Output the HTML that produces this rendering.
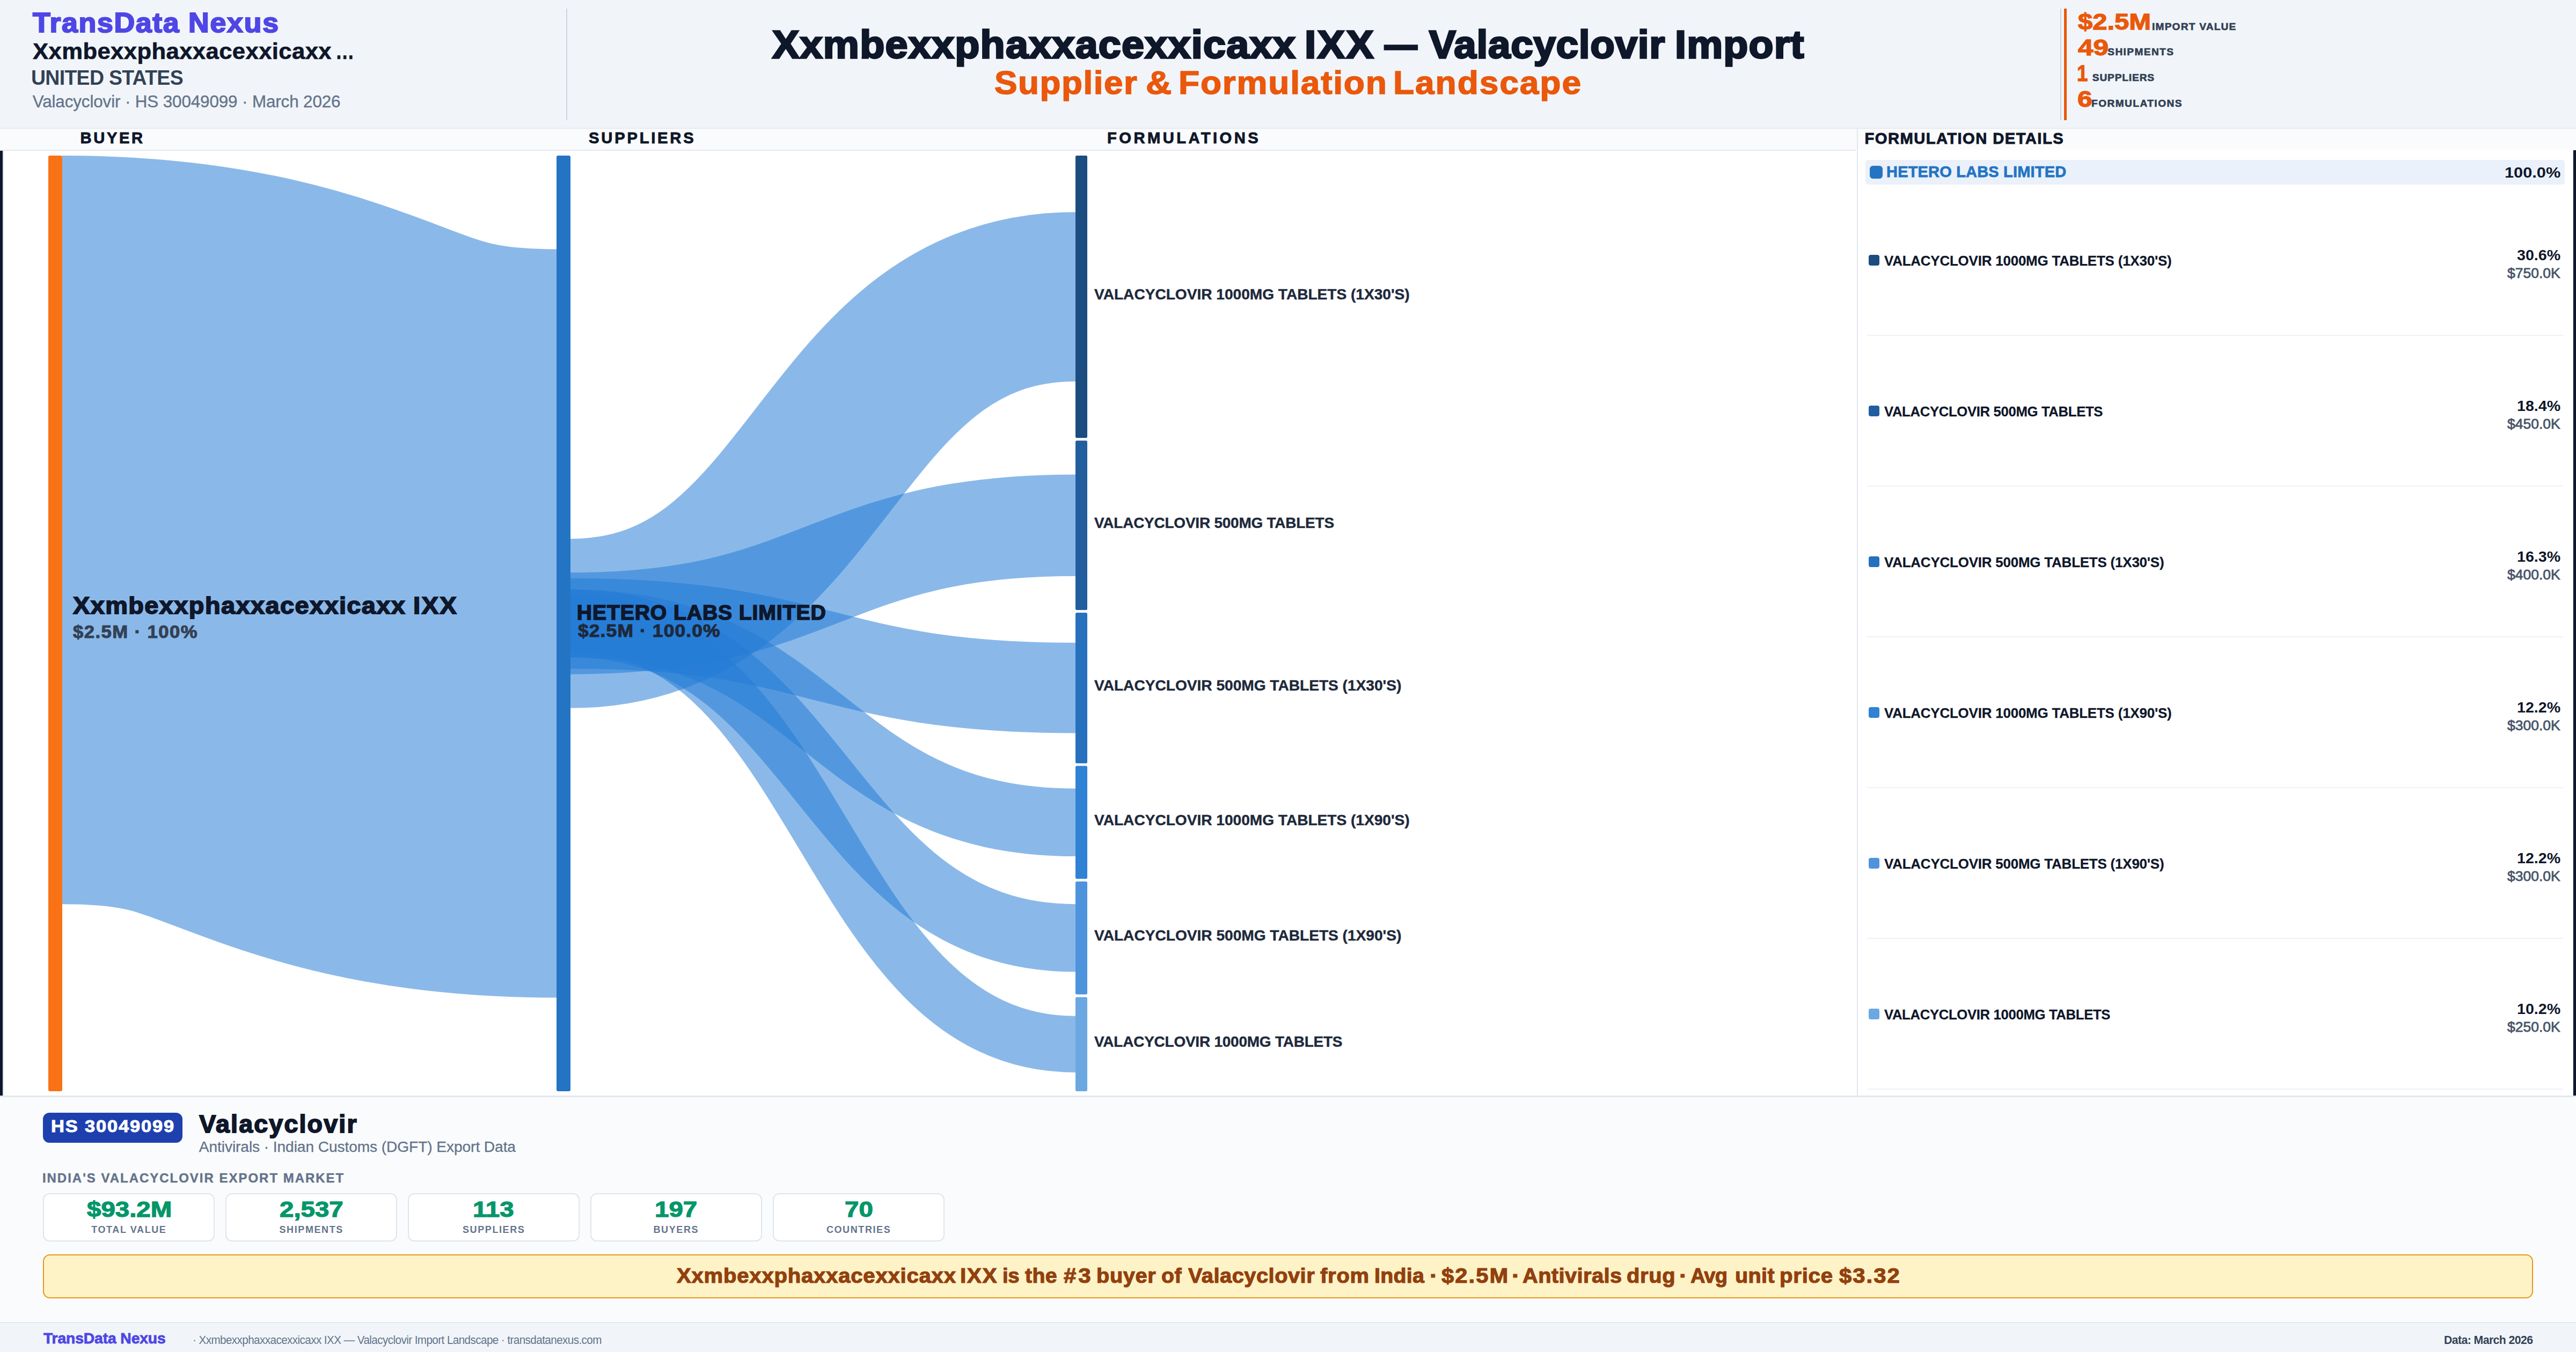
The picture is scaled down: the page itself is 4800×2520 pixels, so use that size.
<!DOCTYPE html><html lang="en"><head><meta charset="utf-8"><title>Valacyclovir Import Landscape</title><style>
*{margin:0;padding:0;box-sizing:border-box}
html,body{width:100%;height:100%;overflow:hidden;background:#fff}
#root{position:absolute;left:0;top:0;width:4800px;height:2520px;overflow:hidden;background:#fff;font-family:"Liberation Sans",sans-serif}
#root{transform-origin:0 0}
@media (max-width:2400px){#root{transform:scale(.5)}}
@media (max-width:1600px){#root{transform:scale(.3333333)}}
.a{position:absolute}
.t{position:absolute;white-space:nowrap;line-height:1;font-weight:700;transform-origin:0 0}
.t.r{font-weight:400}
.g{position:absolute;white-space:nowrap;font-size:0;line-height:0;font-weight:700}
.g.r{font-weight:400}
.g span{display:inline-block;width:0;line-height:1;white-space:nowrap;transform-origin:0 0;vertical-align:top}
</style></head><body><div id="root">
<div class="a" style="left:0;top:0;width:4800px;height:238px;background:#f1f5f9"></div>
<div class="a" style="left:0;top:236px;width:4800px;height:2.5px;background:#eef2f6"></div><div class="a" style="left:0;top:238.5px;width:4800px;height:1.5px;background:#e1e6eb"></div>
<div class="a" style="left:0;top:240px;width:3461px;height:39px;background:#fafbfd"></div>
<div class="a" style="left:0;top:279px;width:3458px;height:2px;background:#e4e7eb"></div>
<div class="a" style="left:3461px;top:240px;width:1339px;height:40px;background:linear-gradient(#fafbfd,#fafbfd 80%,#fdfdfe)"></div>
<div class="a" style="left:0;top:281px;width:5px;height:1761.4px;background:#0f172a"></div><div class="a" style="left:5px;top:281px;width:1.5px;height:1761px;background:#dde2ee"></div>
<div class="a" style="left:4795px;top:280px;width:5px;height:1762.4px;background:#0f172a"></div><div class="a" style="left:4793.5px;top:280px;width:1.5px;height:1762px;background:#dde2ee"></div>
<div class="a" style="left:3460px;top:240px;width:2px;height:1802px;background:#e2e8f0"></div>
<div class="a" style="left:1055px;top:16px;width:2px;height:208px;background:#cdd4da"></div>
<div class="a" style="left:3839px;top:16px;width:2px;height:208px;background:#cdd4da"></div>
<div class="a" style="left:3845.5px;top:16px;width:5px;height:208px;background:#ea580c"></div>
<svg class="a" style="left:0;top:0" width="4800" height="2520" viewBox="0 0 4800 2520"><path d="M116.0,987.6C576.5,987.6 576.5,1162.0 1037.0,1162.0" stroke-width="1395.2" stroke="#247cd6" stroke-opacity="0.535" fill="none"/>
<path d="M1063.0,1162.0C1533.5,1162.0 1533.5,553.1 2004.0,553.1" stroke-width="315.7" stroke="#247cd6" stroke-opacity="0.535" fill="none"/>
<path d="M1063.0,1162.0C1533.5,1162.0 1533.5,979.1 2004.0,979.1" stroke-width="189.4" stroke="#247cd6" stroke-opacity="0.535" fill="none"/>
<path d="M1063.0,1162.0C1533.5,1162.0 1533.5,1282.3 2004.0,1282.3" stroke-width="168.4" stroke="#247cd6" stroke-opacity="0.535" fill="none"/>
<path d="M1063.0,1162.0C1533.5,1162.0 1533.5,1532.9 2004.0,1532.9" stroke-width="126.3" stroke="#247cd6" stroke-opacity="0.535" fill="none"/>
<path d="M1063.0,1162.0C1533.5,1162.0 1533.5,1748.3 2004.0,1748.3" stroke-width="126.3" stroke="#247cd6" stroke-opacity="0.535" fill="none"/>
<path d="M1063.0,1162.0C1533.5,1162.0 1533.5,1946.3 2004.0,1946.3" stroke-width="105.2" stroke="#247cd6" stroke-opacity="0.535" fill="none"/>
<rect x="90" y="290.0" width="26" height="1744.0" rx="3" fill="#f97316"/>
<rect x="1037" y="290.0" width="26" height="1744.0" rx="3" fill="#2474c4"/>
<rect x="2004" y="290.0" width="22" height="526.2" rx="2.5" fill="#1b4d80"/>
<rect x="2004" y="821.2" width="22" height="315.7" rx="2.5" fill="#225e9e"/>
<rect x="2004" y="1142.0" width="22" height="280.7" rx="2.5" fill="#2770be"/>
<rect x="2004" y="1427.6" width="22" height="210.5" rx="2.5" fill="#3082d4"/>
<rect x="2004" y="1643.1" width="22" height="210.5" rx="2.5" fill="#4e94dc"/>
<rect x="2004" y="1858.6" width="22" height="175.4" rx="2.5" fill="#6ba8e2"/></svg>
<div class="a" style="left:3476px;top:298px;width:1303px;height:46px;background:#eaf1fa;border-radius:5px"></div>
<div class="a" style="left:3484px;top:309px;width:24px;height:24px;background:#2474c4;border-radius:6px"></div>
<div class="a" style="left:3482px;top:475.0px;width:20px;height:20px;background:#1b4d80;border-radius:4px"></div>
<div class="a" style="left:3479px;top:624.0px;width:1297px;height:2px;background:#eef2f6"></div>
<div class="a" style="left:3482px;top:756.0px;width:20px;height:20px;background:#225e9e;border-radius:4px"></div>
<div class="a" style="left:3479px;top:905.0px;width:1297px;height:2px;background:#eef2f6"></div>
<div class="a" style="left:3482px;top:1037.0px;width:20px;height:20px;background:#2770be;border-radius:4px"></div>
<div class="a" style="left:3479px;top:1186.0px;width:1297px;height:2px;background:#eef2f6"></div>
<div class="a" style="left:3482px;top:1318.0px;width:20px;height:20px;background:#3082d4;border-radius:4px"></div>
<div class="a" style="left:3479px;top:1467.0px;width:1297px;height:2px;background:#eef2f6"></div>
<div class="a" style="left:3482px;top:1599.0px;width:20px;height:20px;background:#4e94dc;border-radius:4px"></div>
<div class="a" style="left:3479px;top:1748.0px;width:1297px;height:2px;background:#eef2f6"></div>
<div class="a" style="left:3482px;top:1880.0px;width:20px;height:20px;background:#6ba8e2;border-radius:4px"></div>
<div class="a" style="left:3479px;top:2029.0px;width:1297px;height:2px;background:#eef2f6"></div>
<div class="a" style="left:0;top:2042px;width:4800px;height:3px;background:#e2e8f0"></div>
<div class="a" style="left:0;top:2045px;width:4800px;height:418px;background:#fafbfd"></div>
<div class="a" style="left:80px;top:2074px;width:260px;height:56px;background:#1e40af;border-radius:12px"></div>
<div class="a" style="left:80px;top:2224px;width:320px;height:90px;background:#fff;border:2px solid #e1e5ea;border-radius:12px"></div>
<div class="a" style="left:420px;top:2224px;width:320px;height:90px;background:#fff;border:2px solid #e1e5ea;border-radius:12px"></div>
<div class="a" style="left:760px;top:2224px;width:320px;height:90px;background:#fff;border:2px solid #e1e5ea;border-radius:12px"></div>
<div class="a" style="left:1100px;top:2224px;width:320px;height:90px;background:#fff;border:2px solid #e1e5ea;border-radius:12px"></div>
<div class="a" style="left:1440px;top:2224px;width:320px;height:90px;background:#fff;border:2px solid #e1e5ea;border-radius:12px"></div>
<div class="a" style="left:80px;top:2338px;width:4640px;height:82px;background:#fef3c7;border:2px solid #e8971a;border-radius:13px"></div>
<div class="a" style="left:0;top:2463.5px;width:4800px;height:2px;background:#e2e8f0"></div>
<div class="a" style="left:0;top:2465.5px;width:4800px;height:54.5px;background:#f1f5f9"></div>
<div class="g" style="left:61.1px;top:16.8px"><span style="margin-left:0.0px;font-size:51.06px;color:#4f46e5;letter-spacing:1.582px;transform:scaleX(1.0509);-webkit-text-stroke:2.17px #4f46e5">TransData</span> <span style="margin-left:290.4px;font-size:51.06px;color:#4f46e5;letter-spacing:1.780px;transform:scaleX(1.0475);-webkit-text-stroke:2.17px #4f46e5">Nexus</span></div>
<div class="g" style="left:60.6px;top:74.1px"><span style="margin-left:0.0px;font-size:43.08px;color:#0f172a;letter-spacing:0.362px;transform:scaleX(1.0141);-webkit-text-stroke:0.66px #0f172a">Xxmbexxphaxxacexxicaxx</span> <span style="margin-left:564.7px;font-size:43.08px;color:#0f172a;transform:scaleX(0.8175);-webkit-text-stroke:0.66px #0f172a">…</span></div>
<div class="t" style="left:58.3px;top:126.2px;font-size:38.66px;color:#334155;letter-spacing:-0.745px;transform:scaleX(0.9700)">UNITED STATES</div>
<div class="t r" style="left:60.7px;top:174.0px;font-size:31.42px;color:#64748b;letter-spacing:-0.134px;-webkit-text-stroke:0.38px #64748b">Valacyclovir · HS 30049099 · March 2026</div>
<div class="g" style="left:1438.5px;top:46.7px"><span style="margin-left:0.0px;font-size:73.15px;color:#0f172a;letter-spacing:1.308px;transform:scaleX(1.0298);-webkit-text-stroke:3.27px #0f172a">Xxmbexxphaxxacexxicaxx</span> <span style="margin-left:992.4px;font-size:73.15px;color:#0f172a;letter-spacing:2.534px;transform:scaleX(1.0438);-webkit-text-stroke:3.27px #0f172a">IXX</span> <span style="margin-left:149.3px;font-size:73.15px;color:#0f172a;transform:scaleX(0.8296);-webkit-text-stroke:3.27px #0f172a">—</span> <span style="margin-left:82.6px;font-size:73.15px;color:#0f172a;letter-spacing:0.732px;transform:scaleX(1.0190);-webkit-text-stroke:3.27px #0f172a">Valacyclovir</span> <span style="margin-left:458.6px;font-size:73.15px;color:#0f172a;letter-spacing:1.257px;transform:scaleX(1.0279);-webkit-text-stroke:3.27px #0f172a">Import</span></div>
<div class="g" style="left:1853.2px;top:123.8px"><span style="margin-left:0.0px;font-size:61.07px;color:#ea580c;letter-spacing:1.496px;transform:scaleX(1.0430);-webkit-text-stroke:1.58px #ea580c">Supplier</span> <span style="margin-left:282.2px;font-size:61.07px;color:#ea580c;transform:scaleX(1.0950);-webkit-text-stroke:1.58px #ea580c">&amp;</span> <span style="margin-left:60.7px;font-size:61.07px;color:#ea580c;letter-spacing:1.697px;transform:scaleX(1.0490);-webkit-text-stroke:1.58px #ea580c">Formulation</span> <span style="margin-left:400.2px;font-size:61.07px;color:#ea580c;letter-spacing:1.877px;transform:scaleX(1.0478);-webkit-text-stroke:1.58px #ea580c">Landscape</span></div>
<div class="t" style="left:3871.7px;top:20.1px;font-size:42.12px;color:#ea580c;transform:scaleX(1.1625);-webkit-text-stroke:1.32px #ea580c">$2.5M</div>
<div class="t" style="left:4010.0px;top:39.9px;font-size:19.04px;color:#334155;letter-spacing:1.262px;-webkit-text-stroke:0.7px #334155">IMPORT VALUE</div>
<div class="t" style="left:3871.6px;top:67.6px;font-size:42.12px;color:#ea580c;transform:scaleX(1.2160);-webkit-text-stroke:1.32px #ea580c">49</div>
<div class="t" style="left:3927.3px;top:87.4px;font-size:19.04px;color:#334155;letter-spacing:1.440px;-webkit-text-stroke:0.7px #334155">SHIPMENTS</div>
<div class="t" style="left:3869.9px;top:115.6px;font-size:42.12px;color:#ea580c;transform:scaleX(0.8651);-webkit-text-stroke:1.32px #ea580c">1</div>
<div class="t" style="left:3898.8px;top:135.4px;font-size:19.04px;color:#334155;letter-spacing:0.923px;-webkit-text-stroke:0.7px #334155">SUPPLIERS</div>
<div class="t" style="left:3870.6px;top:163.6px;font-size:42.12px;color:#ea580c;transform:scaleX(1.1807);-webkit-text-stroke:1.32px #ea580c">6</div>
<div class="t" style="left:3897.1px;top:183.4px;font-size:19.04px;color:#334155;letter-spacing:1.489px;-webkit-text-stroke:0.7px #334155">FORMULATIONS</div>
<div class="t" style="left:149.5px;top:243.1px;font-size:29.19px;color:#0f172a;letter-spacing:3.612px;-webkit-text-stroke:0.92px #0f172a">BUYER</div>
<div class="t" style="left:1097.1px;top:243.1px;font-size:29.19px;color:#0f172a;letter-spacing:3.763px;-webkit-text-stroke:0.92px #0f172a">SUPPLIERS</div>
<div class="t" style="left:2063.1px;top:243.1px;font-size:29.19px;color:#0f172a;letter-spacing:4.419px;-webkit-text-stroke:0.92px #0f172a">FORMULATIONS</div>
<div class="t" style="left:3474.5px;top:244.1px;font-size:29.19px;color:#0f172a;letter-spacing:1.436px;-webkit-text-stroke:0.92px #0f172a">FORMULATION DETAILS</div>
<div class="g" style="left:136.3px;top:1107.2px"><span style="margin-left:0.0px;font-size:44.63px;color:#0f172a;letter-spacing:1.353px;transform:scaleX(1.0506);-webkit-text-stroke:1.9px #0f172a">Xxmbexxphaxxacexxicaxx</span> <span style="margin-left:634.0px;font-size:44.63px;color:#0f172a;letter-spacing:2.123px;transform:scaleX(1.0603);-webkit-text-stroke:1.9px #0f172a">IXX</span></div>
<div class="t" style="left:135.8px;top:1161.5px;font-size:32.39px;color:#334155;letter-spacing:1.313px;transform:scaleX(1.0717);-webkit-text-stroke:1.02px #334155">$2.5M · 100%</div>
<div class="t" style="left:1074.8px;top:1121.5px;font-size:39.15px;color:#0f172a;letter-spacing:0.884px;-webkit-text-stroke:1.66px #0f172a">HETERO LABS LIMITED</div>
<div class="t" style="left:1076.9px;top:1158.9px;font-size:33.36px;color:#1e293b;letter-spacing:1.081px;transform:scaleX(1.0597);-webkit-text-stroke:1.05px #1e293b">$2.5M · 100.0%</div>
<div class="t" style="left:2039.4px;top:533.7px;font-size:28.29px;color:#1e293b;letter-spacing:-0.059px;transform:scaleX(0.9965);-webkit-text-stroke:0.43px #1e293b">VALACYCLOVIR 1000MG TABLETS (1X30'S)</div>
<div class="t" style="left:2039.4px;top:959.7px;font-size:28.29px;color:#1e293b;letter-spacing:-0.216px;transform:scaleX(0.9882);-webkit-text-stroke:0.43px #1e293b">VALACYCLOVIR 500MG TABLETS</div>
<div class="t" style="left:2039.4px;top:1262.9px;font-size:28.29px;color:#1e293b;letter-spacing:-0.056px;transform:scaleX(0.9967);-webkit-text-stroke:0.43px #1e293b">VALACYCLOVIR 500MG TABLETS (1X30'S)</div>
<div class="t" style="left:2039.4px;top:1513.5px;font-size:28.29px;color:#1e293b;letter-spacing:-0.059px;transform:scaleX(0.9965);-webkit-text-stroke:0.43px #1e293b">VALACYCLOVIR 1000MG TABLETS (1X90'S)</div>
<div class="t" style="left:2039.4px;top:1729.0px;font-size:28.29px;color:#1e293b;letter-spacing:-0.056px;transform:scaleX(0.9967);-webkit-text-stroke:0.43px #1e293b">VALACYCLOVIR 500MG TABLETS (1X90'S)</div>
<div class="t" style="left:2039.4px;top:1926.9px;font-size:28.29px;color:#1e293b;letter-spacing:-0.214px;transform:scaleX(0.9882);-webkit-text-stroke:0.43px #1e293b">VALACYCLOVIR 1000MG TABLETS</div>
<div class="t" style="left:3515.0px;top:305.6px;font-size:28.99px;color:#2474c4;letter-spacing:0.194px;-webkit-text-stroke:0.75px #2474c4">HETERO LABS LIMITED</div>
<div class="t" style="left:4667.1px;top:306.8px;font-size:28.34px;color:#0f172a;transform:scaleX(1.0855)">100.0%</div>
<div class="t" style="left:3511.2px;top:473.3px;font-size:26.21px;color:#0f172a;letter-spacing:-0.183px;transform:scaleX(0.9883);-webkit-text-stroke:0.27px #0f172a">VALACYCLOVIR 1000MG TABLETS (1X30'S)</div>
<div class="t" style="left:4690.1px;top:461.8px;font-size:27.62px;color:#0f172a;transform:scaleX(1.0371)">30.6%</div>
<div class="t r" style="left:4671.8px;top:496.7px;font-size:25.02px;color:#475569;transform:scaleX(1.0582);-webkit-text-stroke:0.78px #475569">$750.0K</div>
<div class="t" style="left:3511.2px;top:754.3px;font-size:26.21px;color:#0f172a;letter-spacing:-0.337px;transform:scaleX(0.9801);-webkit-text-stroke:0.27px #0f172a">VALACYCLOVIR 500MG TABLETS</div>
<div class="t" style="left:4690.1px;top:742.8px;font-size:27.62px;color:#0f172a;transform:scaleX(1.0371)">18.4%</div>
<div class="t r" style="left:4671.8px;top:777.7px;font-size:25.02px;color:#475569;transform:scaleX(1.0582);-webkit-text-stroke:0.78px #475569">$450.0K</div>
<div class="t" style="left:3511.2px;top:1035.3px;font-size:26.21px;color:#0f172a;letter-spacing:-0.181px;transform:scaleX(0.9885);-webkit-text-stroke:0.27px #0f172a">VALACYCLOVIR 500MG TABLETS (1X30'S)</div>
<div class="t" style="left:4690.1px;top:1023.8px;font-size:27.62px;color:#0f172a;transform:scaleX(1.0371)">16.3%</div>
<div class="t r" style="left:4671.8px;top:1058.7px;font-size:25.02px;color:#475569;transform:scaleX(1.0582);-webkit-text-stroke:0.78px #475569">$400.0K</div>
<div class="t" style="left:3511.2px;top:1316.3px;font-size:26.21px;color:#0f172a;letter-spacing:-0.183px;transform:scaleX(0.9883);-webkit-text-stroke:0.27px #0f172a">VALACYCLOVIR 1000MG TABLETS (1X90'S)</div>
<div class="t" style="left:4690.1px;top:1304.8px;font-size:27.62px;color:#0f172a;transform:scaleX(1.0371)">12.2%</div>
<div class="t r" style="left:4671.8px;top:1339.7px;font-size:25.02px;color:#475569;transform:scaleX(1.0582);-webkit-text-stroke:0.78px #475569">$300.0K</div>
<div class="t" style="left:3511.2px;top:1597.3px;font-size:26.21px;color:#0f172a;letter-spacing:-0.181px;transform:scaleX(0.9885);-webkit-text-stroke:0.27px #0f172a">VALACYCLOVIR 500MG TABLETS (1X90'S)</div>
<div class="t" style="left:4690.1px;top:1585.8px;font-size:27.62px;color:#0f172a;transform:scaleX(1.0371)">12.2%</div>
<div class="t r" style="left:4671.8px;top:1620.7px;font-size:25.02px;color:#475569;transform:scaleX(1.0582);-webkit-text-stroke:0.78px #475569">$300.0K</div>
<div class="t" style="left:3511.2px;top:1878.3px;font-size:26.21px;color:#0f172a;letter-spacing:-0.335px;transform:scaleX(0.9801);-webkit-text-stroke:0.27px #0f172a">VALACYCLOVIR 1000MG TABLETS</div>
<div class="t" style="left:4690.1px;top:1866.8px;font-size:27.62px;color:#0f172a;transform:scaleX(1.0371)">10.2%</div>
<div class="t r" style="left:4671.8px;top:1901.7px;font-size:25.02px;color:#475569;transform:scaleX(1.0582);-webkit-text-stroke:0.78px #475569">$250.0K</div>
<div class="t" style="left:94.5px;top:2083.7px;font-size:31.70px;color:#ffffff;letter-spacing:1.683px;transform:scaleX(1.0879);-webkit-text-stroke:0.99px #ffffff">HS 30049099</div>
<div class="t" style="left:371.3px;top:2071.6px;font-size:46.55px;color:#0f172a;letter-spacing:2.191px;-webkit-text-stroke:1.98px #0f172a">Valacyclovir</div>
<div class="t r" style="left:370.8px;top:2124.2px;font-size:28.13px;color:#64748b;letter-spacing:-0.082px;-webkit-text-stroke:0.34px #64748b">Antivirals · Indian Customs (DGFT) Export Data</div>
<div class="t" style="left:78.9px;top:2183.9px;font-size:23.99px;color:#64748b;letter-spacing:1.991px;-webkit-text-stroke:0.49px #64748b">INDIA'S VALACYCLOVIR EXPORT MARKET</div>
<div class="t" style="left:162.1px;top:2233.6px;font-size:40.04px;color:#059669;transform:scaleX(1.1855);-webkit-text-stroke:1.26px #059669">$93.2M</div>
<div class="t" style="left:170.2px;top:2283.0px;font-size:18.02px;color:#64748b;letter-spacing:1.588px">TOTAL VALUE</div>
<div class="t" style="left:520.8px;top:2233.6px;font-size:40.04px;color:#059669;transform:scaleX(1.1855);-webkit-text-stroke:1.26px #059669">2,537</div>
<div class="t" style="left:520.5px;top:2283.0px;font-size:18.02px;color:#64748b;letter-spacing:1.588px">SHIPMENTS</div>
<div class="t" style="left:881.1px;top:2233.6px;font-size:40.04px;color:#059669;transform:scaleX(1.1855);-webkit-text-stroke:1.26px #059669">113</div>
<div class="t" style="left:862.0px;top:2283.0px;font-size:18.02px;color:#64748b;letter-spacing:1.588px">SUPPLIERS</div>
<div class="t" style="left:1220.0px;top:2233.6px;font-size:40.04px;color:#059669;transform:scaleX(1.1855);-webkit-text-stroke:1.26px #059669">197</div>
<div class="t" style="left:1217.5px;top:2283.0px;font-size:18.02px;color:#64748b;letter-spacing:1.588px">BUYERS</div>
<div class="t" style="left:1573.6px;top:2233.6px;font-size:40.04px;color:#059669;transform:scaleX(1.1855);-webkit-text-stroke:1.26px #059669">70</div>
<div class="t" style="left:1539.9px;top:2283.0px;font-size:18.02px;color:#64748b;letter-spacing:1.588px">COUNTRIES</div>
<div class="g" style="left:1260.5px;top:2359.1px"><span style="margin-left:0.0px;font-size:38.78px;color:#92400e;letter-spacing:0.770px;transform:scaleX(1.0331);-webkit-text-stroke:1.22px #92400e">Xxmbexxphaxxacexxicaxx</span> <span style="margin-left:528.6px;font-size:38.78px;color:#92400e;letter-spacing:1.466px;transform:scaleX(1.0482);-webkit-text-stroke:1.22px #92400e">IXX</span> <span style="margin-left:79.2px;font-size:38.78px;color:#92400e;letter-spacing:-0.334px;transform:scaleX(0.9886);-webkit-text-stroke:1.22px #92400e">is</span> <span style="margin-left:42.0px;font-size:38.78px;color:#92400e;letter-spacing:0.349px;transform:scaleX(1.0121);-webkit-text-stroke:1.22px #92400e">the</span> <span style="margin-left:71.8px;font-size:38.78px;color:#92400e;letter-spacing:3.554px;transform:scaleX(1.0840);-webkit-text-stroke:1.22px #92400e">#3</span> <span style="margin-left:61.4px;font-size:38.78px;color:#92400e;letter-spacing:0.619px;transform:scaleX(1.0239);-webkit-text-stroke:1.22px #92400e">buyer</span> <span style="margin-left:120.7px;font-size:38.78px;color:#92400e;letter-spacing:0.455px;transform:scaleX(1.0125);-webkit-text-stroke:1.22px #92400e">of</span> <span style="margin-left:49.4px;font-size:38.78px;color:#92400e;letter-spacing:0.515px;transform:scaleX(1.0252);-webkit-text-stroke:1.22px #92400e">Valacyclovir</span> <span style="margin-left:246.5px;font-size:38.78px;color:#92400e;letter-spacing:0.800px;transform:scaleX(1.0284);-webkit-text-stroke:1.22px #92400e">from</span> <span style="margin-left:100.5px;font-size:38.78px;color:#92400e;letter-spacing:0.277px;transform:scaleX(1.0124);-webkit-text-stroke:1.22px #92400e">India</span> <span style="margin-left:103.6px;font-size:38.78px;color:#92400e;transform:scaleX(1.1693);-webkit-text-stroke:1.22px #92400e">·</span> <span style="margin-left:21.8px;font-size:38.78px;color:#92400e;letter-spacing:1.952px;transform:scaleX(1.0737);-webkit-text-stroke:1.22px #92400e">$2.5M</span> <span style="margin-left:131.4px;font-size:38.78px;color:#92400e;transform:scaleX(1.1693);-webkit-text-stroke:1.22px #92400e">·</span> <span style="margin-left:19.5px;font-size:38.78px;color:#92400e;letter-spacing:0.461px;transform:scaleX(1.0236);-webkit-text-stroke:1.22px #92400e">Antivirals</span> <span style="margin-left:194.4px;font-size:38.78px;color:#92400e;letter-spacing:0.724px;transform:scaleX(1.0261);-webkit-text-stroke:1.22px #92400e">drug</span> <span style="margin-left:98.0px;font-size:38.78px;color:#92400e;transform:scaleX(1.1543);-webkit-text-stroke:1.22px #92400e">·</span> <span style="margin-left:21.2px;font-size:38.78px;color:#92400e;letter-spacing:-0.678px;transform:scaleX(0.9805);-webkit-text-stroke:1.22px #92400e">Avg</span> <span style="margin-left:82.4px;font-size:38.78px;color:#92400e;letter-spacing:0.427px;transform:scaleX(1.0185);-webkit-text-stroke:1.22px #92400e">unit</span> <span style="margin-left:83.6px;font-size:38.78px;color:#92400e;letter-spacing:0.770px;transform:scaleX(1.0342);-webkit-text-stroke:1.22px #92400e">price</span> <span style="margin-left:110.8px;font-size:38.78px;color:#92400e;letter-spacing:1.876px;transform:scaleX(1.0780);-webkit-text-stroke:1.22px #92400e">$3.32</span></div>
<div class="t" style="left:80.6px;top:2479.7px;font-size:28.50px;color:#4f46e5;letter-spacing:-0.128px;transform:scaleX(0.9923);-webkit-text-stroke:0.89px #4f46e5">TransData Nexus</div>
<div class="t r" style="left:358.6px;top:2486.7px;font-size:21.80px;color:#64748b;letter-spacing:-0.585px;transform:scaleX(0.9449)">· Xxmbexxphaxxacexxicaxx IXX — Valacyclovir Import Landscape · transdatanexus.com</div>
<div class="t" style="left:4554.0px;top:2486.5px;font-size:22.38px;color:#334155;letter-spacing:-0.610px;transform:scaleX(0.9497)">Data: March 2026</div>
</div></body></html>
